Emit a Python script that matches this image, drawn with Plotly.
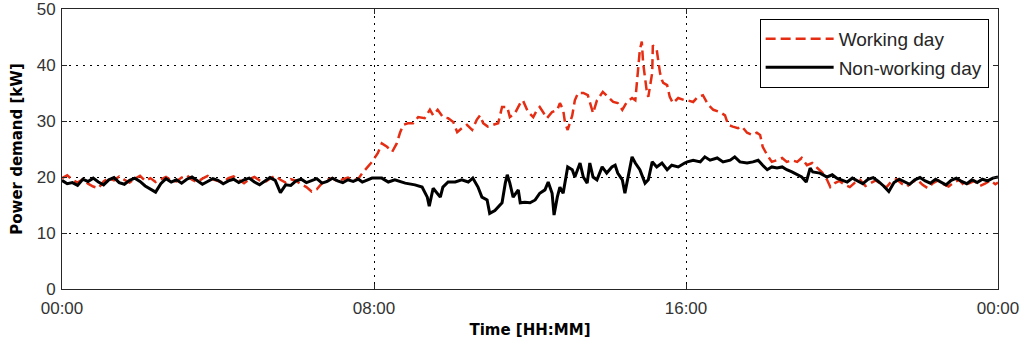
import plotly.graph_objects as go

# ---- Working day (minutes since midnight, kW) ----
work_t = list(range(0, 457, 8)) + [
    462, 477, 486, 492, 500, 508, 515, 520, 525, 532, 540, 548, 558, 566, 571, 578, 586, 594,
    602, 608, 615, 623, 631, 638, 643, 648, 655, 663, 671, 677, 685, 689, 697, 705, 709, 717,
    725, 731, 735, 740, 746, 754, 762, 766, 771, 774, 778, 785, 789, 794, 802, 809, 817, 823,
    828, 832, 840, 848, 855, 862, 869, 877, 882, 886, 889, 892, 894, 900, 902, 908, 909, 915,
    917, 920, 923, 925, 931, 935, 940, 948, 958, 962, 971, 978, 986, 994, 1002, 1012, 1020,
    1025, 1032, 1040, 1046, 1054, 1062, 1069, 1074, 1078, 1085, 1092, 1100, 1108, 1115, 1123,
    1131, 1138, 1146, 1154, 1162, 1169, 1177, 1182, 1189] + list(range(1196, 1437, 8)) + [1440]
work_kw = [
    19.8, 20.3, 19.5, 19.0, 19.6, 18.8, 18.3, 18.0, 19.2, 19.8, 19.4, 20.1, 19.5, 19.0, 19.7,
    20.2, 19.3, 19.8, 19.1, 19.6, 20.0, 19.4, 19.2, 19.9, 20.3, 19.5, 19.1, 19.7, 20.2, 19.6,
    19.3, 19.0, 19.8, 20.1, 19.5, 18.9, 19.6, 20.0, 19.4, 19.1, 19.7, 20.2, 19.5, 19.0, 19.6,
    19.3, 18.7, 18.2, 17.4, 17.8, 18.9, 19.5, 19.8, 19.2, 19.6, 19.9, 19.4, 19.7,
    20.7, 22.7, 24.3, 26.0, 25.4, 24.5, 26.0, 27.9, 29.3, 29.6, 29.6, 30.7, 30.5, 32.0, 31.0,
    32.0, 30.7, 30.5, 29.8, 28.0, 28.7, 29.3, 28.4, 30.2, 31.0, 29.6, 29.0, 29.3, 29.6, 32.5,
    32.5, 30.7, 31.4, 33.2, 33.7, 31.6, 30.7, 32.0, 32.5, 31.6, 30.5, 31.6, 32.0, 33.2, 32.0,
    29.6, 28.4, 31.0, 33.7, 35.0, 35.0, 34.6, 31.4, 33.7, 34.6, 35.2, 34.3, 33.4, 33.2, 32.0,
    33.4, 34.1, 33.7, 38.6, 42.7, 44.2, 40.4, 35.0, 34.3, 38.6, 43.5, 42.7, 40.9, 38.6, 37.3,
    36.8, 36.4, 34.3, 33.2, 34.1, 33.7, 33.7, 33.4, 34.3, 34.6, 32.9, 32.0, 31.6, 31.0, 29.3,
    29.0, 28.7, 29.0, 27.9, 27.5, 27.9, 27.5, 25.4, 23.9, 22.7, 23.0, 23.4, 22.7, 23.0, 22.7,
    23.4, 22.1, 22.5, 21.6, 20.9, 19.5, 18.2, 18.9,
    19.3, 18.6, 18.2, 19.0, 19.5, 18.4, 18.9, 19.4, 18.7, 18.1, 19.2, 19.6, 18.8, 18.3, 19.1,
    19.5, 18.6, 18.0, 18.9, 19.4, 18.7, 18.3, 19.0, 19.5, 18.5, 18.9, 19.3, 18.4, 18.8, 19.4,
    18.7, 19.0]

# ---- Non-working day ----
rest_t = list(range(0, 457, 8)) + [
    462, 477, 492, 502, 512, 528, 543, 554, 562, 565, 571, 577, 582, 586, 594, 605, 615, 625,
    632, 640, 646, 654, 658, 666, 677, 682, 685, 689, 694, 702, 705, 712, 720, 728, 735, 743,
    748, 754, 757, 762, 766, 771, 778, 785, 789, 797, 802, 808, 812, 817, 823, 831, 838, 846,
    851, 855, 862, 866, 871, 877, 882, 889, 897, 902, 908, 915, 923, 931, 938, 948, 958, 962,
    971, 982, 989, 997, 1008, 1017, 1028, 1035, 1043, 1054, 1063, 1071, 1078, 1085, 1092, 1100,
    1108, 1115, 1123, 1131, 1138, 1145, 1151, 1155, 1166, 1177, 1185, 1192] + list(range(1200, 1441, 8))
rest_kw = [
    19.4, 18.8, 19.0, 18.5, 19.6, 19.2, 19.8, 19.1, 18.6, 19.5, 19.9, 19.0, 18.7, 19.4, 19.8,
    19.2, 18.4, 17.8, 17.3, 18.8, 19.7, 19.1, 19.5, 18.9, 19.6, 20.0, 19.3, 18.7, 19.2, 19.7,
    19.4, 18.8, 19.3, 19.6, 19.0, 19.5, 19.8, 19.1, 18.6, 19.3, 19.9, 19.4, 17.2, 18.6, 18.5,
    19.3, 19.6, 19.0, 19.4, 19.7, 18.9, 19.2, 19.8, 19.3, 19.0, 19.5, 19.2, 19.6,
    19.1, 19.8, 19.8, 19.1, 19.5, 18.9, 18.6, 18.2, 16.4, 14.8, 18.0, 17.1, 16.4, 18.2, 19.1,
    19.1, 19.5, 19.1, 19.8, 18.2, 16.4, 15.9, 13.5, 14.0, 15.4, 18.9, 20.4, 18.9, 16.4, 17.7,
    15.4, 15.5, 15.4, 15.9, 17.1, 17.7, 19.1, 17.1, 13.2, 16.4, 18.2, 17.1, 21.8, 21.3, 20.0,
    22.5, 20.0, 18.9, 22.5, 20.0, 19.5, 21.8, 20.7, 21.8, 22.1, 20.7, 19.5, 17.1, 20.0, 23.6,
    22.5, 21.3, 18.9, 19.5, 22.7, 21.8, 22.5, 21.3, 22.1, 21.8, 22.5, 22.7, 23.0, 22.7, 23.6,
    23.0, 23.4, 22.7, 23.0, 23.6, 22.7, 22.5, 22.7, 23.0, 22.1, 21.3, 21.8, 21.6, 21.8, 21.3,
    20.9, 20.4, 20.0, 19.1, 21.6, 20.9, 20.7, 20.0, 20.4, 19.8,
    19.5, 19.1, 19.8, 19.3, 18.8, 19.6, 19.9, 19.2, 18.4, 17.4, 19.0, 19.6, 19.2, 18.7, 19.5,
    19.9, 19.3, 18.9, 19.6, 19.1, 18.6, 19.4, 19.8, 19.2, 18.8, 19.5, 19.0, 19.6, 19.3, 19.8,
    20.0]

x_tickvals = [0, 480, 960, 1440]
x_ticktext = ["00:00", "08:00", "16:00", "00:00"]
y_tickvals = [0, 10, 20, 30, 40, 50]

fig = go.Figure()
fig.add_trace(go.Scatter(x=work_t, y=work_kw, mode="lines", name="Working day",
                         legendgroup="a",
                         line=dict(color="rgb(228,45,18)", width=2.5, dash="10px,5px")))
fig.add_trace(go.Scatter(x=rest_t, y=rest_kw, mode="lines", name="Non-working day",
                         legendgroup="b",
                         line=dict(color="black", width=3)))

tick_font = dict(family="Liberation Sans, Arial, sans-serif", size=17, color="#333333")
title_font = dict(family="DejaVu Sans, Verdana, sans-serif", size=15, color="black")
fig.update_layout(
    width=1024, height=342,
    margin=dict(l=62, r=26, t=9, b=53),
    plot_bgcolor="white", paper_bgcolor="white",
    font=tick_font,
    showlegend=True,
    legend=dict(x=0.99, y=0.965, xanchor="right", yanchor="top",
                bordercolor="black", borderwidth=1, bgcolor="white",
                itemwidth=68, tracegroupgap=1,
                font=dict(family="Liberation Sans, Arial, sans-serif", size=19, color="#262626")),
)
fig.update_xaxes(
    range=[0, 1440], tickvals=x_tickvals, ticktext=x_ticktext,
    showline=True, linecolor="#262626", linewidth=1, mirror="ticks",
    ticks="inside", ticklen=5, tickcolor="#262626", ticklabelstandoff=4,
    ticklabeloverflow="allow",
    showgrid=True, gridcolor="black", griddash="2px,5px", gridwidth=1,
    zeroline=False, tickfont=tick_font, automargin=False,
    title=dict(text="<b>Time [HH:MM]</b>", font=title_font, standoff=7),
)
fig.update_yaxes(
    range=[0, 50], tickvals=y_tickvals,
    showline=True, linecolor="#262626", linewidth=1, mirror="ticks",
    ticks="inside", ticklen=5, tickcolor="#262626", ticklabelstandoff=2,
    ticklabeloverflow="allow",
    showgrid=True, gridcolor="black", griddash="2px,5px", gridwidth=1,
    zeroline=False, tickfont=tick_font, automargin=False,
    title=dict(text="<b>Power demand [kW]</b>", font=title_font, standoff=10),
)

# remove the default 8px page margin so the figure sits at the window's corner
fig.write_html("out.html", config={"displayModeBar": False},
               post_script="document.body.style.margin='0';")
